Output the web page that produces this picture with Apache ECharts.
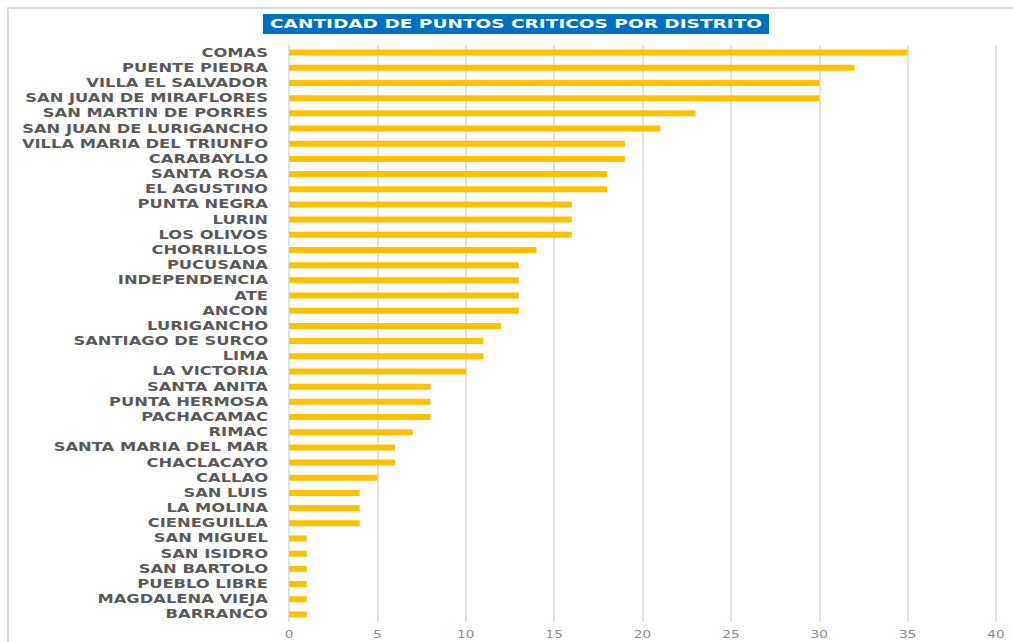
<!DOCTYPE html>
<html>
<head>
<meta charset="utf-8">
<script src="https://cdn.jsdelivr.net/npm/echarts@6/dist/echarts.min.js"></script>
<style>html,body{margin:0;padding:0;background:#fff;}#c{width:1013px;height:642px;}</style>
</head>
<body>
<div id="c"></div>
<script>
const categories = ["COMAS","PUENTE PIEDRA","VILLA EL SALVADOR","SAN JUAN DE MIRAFLORES","SAN MARTIN DE PORRES","SAN JUAN DE LURIGANCHO","VILLA MARIA DEL TRIUNFO","CARABAYLLO","SANTA ROSA","EL AGUSTINO","PUNTA NEGRA","LURIN","LOS OLIVOS","CHORRILLOS","PUCUSANA","INDEPENDENCIA","ATE","ANCON","LURIGANCHO","SANTIAGO DE SURCO","LIMA","LA VICTORIA","SANTA ANITA","PUNTA HERMOSA","PACHACAMAC","RIMAC","SANTA MARIA DEL MAR","CHACLACAYO","CALLAO","SAN LUIS","LA MOLINA","CIENEGUILLA","SAN MIGUEL","SAN ISIDRO","SAN BARTOLO","PUEBLO LIBRE","MAGDALENA VIEJA","BARRANCO"];
const values = [35,32,30,30,23,21,19,19,18,18,16,16,16,14,13,13,13,13,12,11,11,10,8,8,8,7,6,6,5,4,4,4,1,1,1,1,1,1];
const titleText = "CANTIDAD DE PUNTOS CRITICOS POR DISTRITO";

const chart = echarts.init(document.getElementById('c'), null, {renderer:'svg'});
chart.setOption({
  animation:false,
  backgroundColor:'#fff',
  graphic:[
    {type:'rect',shape:{x:8,y:8,width:1030,height:660},style:{fill:'none',stroke:'#d9d9d9',lineWidth:2},z:-1},
    {type:'rect',shape:{x:263,y:14,width:506,height:20},style:{fill:'#0070C0'},z:10},
    {type:'text',x:516,y:24,z:11,style:{text:titleText,fill:'#fff',font:'bold 12px "DejaVu Sans"',textAlign:'center',textVerticalAlign:'middle'}}
  ],
  grid:{left:289,right:17,top:45,bottom:20,containLabel:false},
  xAxis:{type:'value',min:0,max:40,interval:5,position:'bottom',
    axisLine:{show:false},axisTick:{show:false},
    axisLabel:{color:'#8c8c8c',fontSize:10,fontFamily:'DejaVu Sans',margin:7},
    splitLine:{lineStyle:{color:'#d9d9d9',width:1.5}}},
  yAxis:{type:'category',data:categories,inverse:true,
    axisLine:{show:false},axisTick:{show:false},
    axisLabel:{color:'#595959',fontSize:12,fontWeight:'bold',fontFamily:'DejaVu Sans',margin:21,interval:0}},
  series:[{type:'bar',data:values,barWidth:6,itemStyle:{color:'#FFC000'}}]
});

// horizontally stretch texts like the reference (real text kept)
function stretch(){
  document.querySelectorAll('#c svg text').forEach(function(t){
    if (t.getAttribute('data-st')) return;
    var w = t.getComputedTextLength();
    if (!w) return;
    var target = (t.textContent === titleText) ? 492 : w * 1.36;
    t.setAttribute('textLength', target.toFixed(1));
    t.setAttribute('lengthAdjust', 'spacingAndGlyphs');
    t.setAttribute('data-st', '1');
  });
}
stretch();
</script>
</body>
</html>
